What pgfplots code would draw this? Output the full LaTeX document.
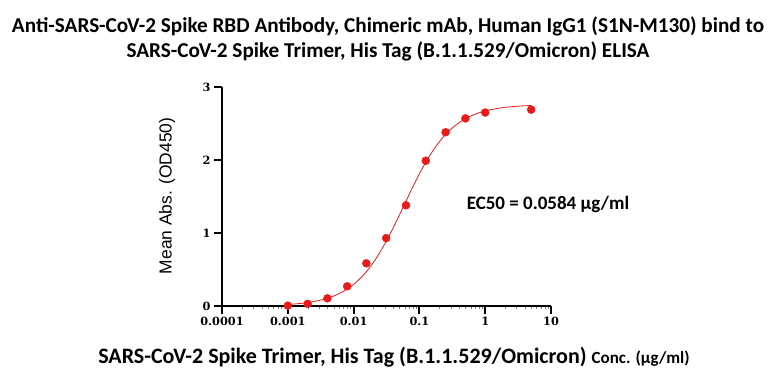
\documentclass[border=0pt]{standalone}
\usepackage{pgfplots}
\pgfplotsset{compat=1.18}
\usepackage{fontspec}
\setmainfont{Carlito}
\newfontfamily\arialf{Liberation Sans}
\newfontfamily\serff{DejaVu Serif}
\definecolor{ptred}{RGB}{232,26,26}
\begin{document}
\begin{tikzpicture}
\useasboundingbox (0pt,0pt) rectangle (776pt,385pt);
\node[font=\bfseries\fontsize{21.2}{25}\selectfont, align=center] at (388pt,346pt)
  {Anti-SARS-CoV-2 Spike RBD Antibody, Chimeric mAb, Human IgG1 (S1N-M130) bind to\\
   SARS-CoV-2 Spike Trimer, His Tag (B.1.1.529/Omicron) ELISA};
\node[anchor=base] at (394pt,21pt)
  {\bfseries\fontsize{22}{24}\selectfont SARS-CoV-2 Spike Trimer, His Tag (B.1.1.529/Omicron) {\fontsize{17}{19}\selectfont Conc. (µg/ml)}};
\node[rotate=90, font=\arialf\fontsize{17.4}{19}\selectfont] at (167pt,189pt) {Mean Abs. (OD450)};
\node[font=\bfseries\fontsize{19}{21}\selectfont] at (548pt,181pt) {EC50 = 0.0584 µg/ml};
\begin{axis}[
  at={(222pt,79pt)}, anchor=south west, scale only axis,
  width=329pt, height=219pt,
  xmode=log, xmin=1e-4, xmax=10, ymin=0, ymax=3,
  axis x line*=bottom, axis y line*=left,
  axis line style={line width=2pt,-},
  xtick={1e-4,1e-3,1e-2,1e-1,1,10},
  xticklabels={0.0001,0.001,0.01,0.1,1,10},
  minor xtick={},
  ytick={0,1,2,3},
  tick align=outside,
  major tick length=8pt,
  major tick style={line width=2pt, black},
  tick label style={font=\serff\bfseries\fontsize{11.3}{12}\selectfont},
  /pgf/number format/assume math mode=true,
  clip=false,
]
\addplot[ptred, line width=0.8pt, smooth, no marks] coordinates {
(0.001,0.0208) (0.0012589,0.0274) (0.0015849,0.0359) (0.0019953,0.0472)
(0.0025119,0.0619) (0.0031623,0.0809) (0.0039811,0.1057) (0.0050119,0.1377)
(0.0063096,0.1787) (0.0079433,0.2308) (0.01,0.2965) (0.012589,0.378)
(0.015849,0.4775) (0.019953,0.596) (0.025119,0.7356) (0.031623,0.894)
(0.039811,1.068) (0.050119,1.254) (0.063096,1.444) (0.079433,1.632)
(0.1,1.811) (0.12589,1.975) (0.15849,2.120) (0.19953,2.246)
(0.25119,2.352) (0.31623,2.439) (0.39811,2.509) (0.50119,2.566)
(0.63096,2.610) (0.79433,2.645) (1,2.672) (1.2589,2.692)
(1.5849,2.708) (1.9953,2.721) (2.5119,2.730) (3.1623,2.737)
(3.9811,2.743) (5.0119,2.747)
};
\addplot[only marks, mark=*, mark size=4pt, ptred, mark options={draw=ptred, fill=ptred}] coordinates {
(0.001,0.005) (0.002,0.03) (0.004,0.105) (0.008,0.27) (0.015625,0.585)
(0.03125,0.93) (0.0625,1.38) (0.125,1.99) (0.25,2.38) (0.5,2.57) (1,2.65) (5,2.69)
};
\end{axis}
\end{tikzpicture}
\end{document}
